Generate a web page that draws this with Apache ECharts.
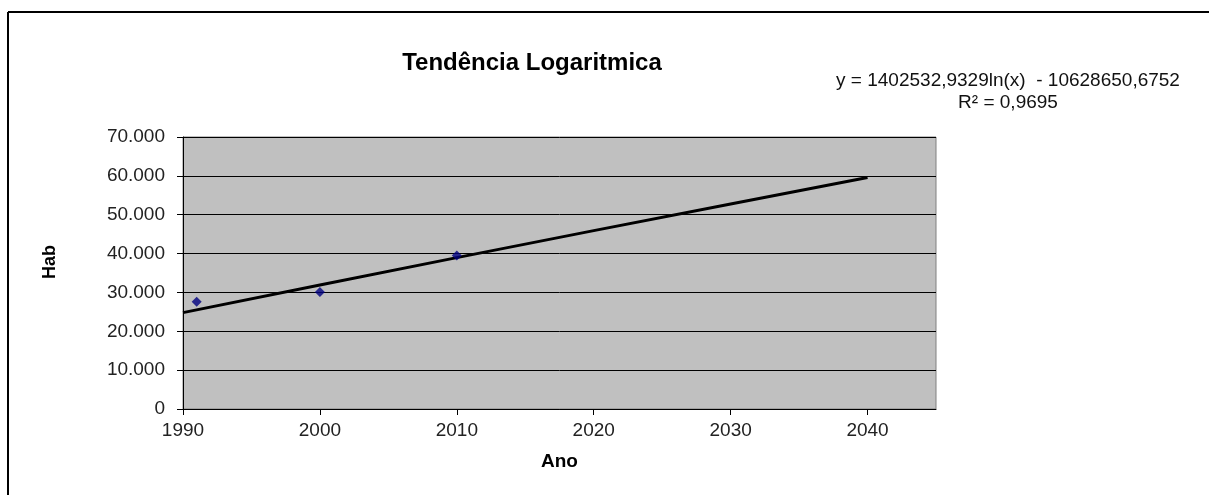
<!DOCTYPE html>
<html>
<head>
<meta charset="utf-8">
<style>
  html, body { margin: 0; padding: 0; background: #fff; }
  #chart { width: 1209px; height: 495px; }
</style>
<script src="https://cdn.jsdelivr.net/npm/echarts@6/dist/echarts.min.js"></script>
</head>
<body>
<div id="chart"></div>
<script>
// observed population
const years = [1991, 2000, 2010]
const habitantes = [27600, 30100, 39500]

// logarithmic trend line
const trendYears = [1990, 2000, 2010, 2020, 2030, 2040]
const trendValues = [24800, 31900, 38950, 45900, 52780, 59600]

const equationText = 'y = 1402532,9329ln(x)  - 10628650,6752'
const r2Text = 'R² = 0,9695'

const font = 'Arial, "Liberation Sans", sans-serif'

const chart = echarts.init(document.getElementById('chart'))

// 70000 -> 70.000
const fmt = (v) => String(v).replace(/\B(?=(\d{3})+(?!\d))/g, '.')

const option = {
  animation: false,
  backgroundColor: '#fff',
  title: {
    text: 'Tendência Logaritmica',
    left: 527,
    top: 46,
    textAlign: 'center',
    textStyle: { fontFamily: font, fontSize: 24, fontWeight: 'bold', color: '#000' }
  },
  grid: { left: 183, top: 137, right: 273, bottom: 86, show: true, backgroundColor: '#c0c0c0', borderColor: '#808080', borderWidth: 1 },
  graphic: [
    { type: 'line', shape: { x1: 8, y1: 12, x2: 1209, y2: 12 }, style: { stroke: '#000', lineWidth: 2 } },
    { type: 'line', shape: { x1: 8, y1: 12, x2: 8, y2: 495 }, style: { stroke: '#000', lineWidth: 2 } },
    {
      type: 'text', x: 1008, y: 71,
      style: { text: equationText, font: '19px ' + font, fill: '#111', textAlign: 'center' }
    },
    {
      type: 'text', x: 1008, y: 93,
      style: { text: r2Text, font: '19px ' + font, fill: '#111', textAlign: 'center' }
    },
    // y axis title
    {
      type: 'text', x: 50, y: 262, rotation: Math.PI / 2,
      style: { text: 'Hab', font: 'bold 18px ' + font, fill: '#000', textAlign: 'center', textVerticalAlign: 'middle' }
    }
  ],
  xAxis: {
    type: 'value',
    min: 1990,
    max: 2045,
    interval: 10,
    name: 'Ano',
    nameLocation: 'middle',
    nameGap: 43,
    nameTextStyle: { fontFamily: font, fontSize: 19, fontWeight: 'bold', color: '#000' },
    axisLine: { show: true, lineStyle: { color: '#000', width: 1 } },
    axisTick: { show: true, length: 6, lineStyle: { color: '#000' } },
    axisLabel: { fontFamily: font, fontSize: 19, color: '#222', margin: 12, showMaxLabel: false, formatter: (v) => String(v) },
    splitLine: { show: false }
  },
  yAxis: {
    type: 'value',
    min: 0,
    max: 70000,
    interval: 10000,
    axisLine: { show: true, lineStyle: { color: '#000', width: 1 } },
    axisTick: { show: true, length: 6, lineStyle: { color: '#000' } },
    axisLabel: { fontFamily: font, fontSize: 19, color: '#222', margin: 18, formatter: fmt },
    splitLine: { show: true, lineStyle: { color: '#000', width: 1 } }
  },
  series: [
    {
      name: 'Tendência',
      type: 'line',
      data: trendYears.map((y, i) => [y, trendValues[i]]),
      showSymbol: false,
      lineStyle: { color: '#000', width: 3 },
      z: 2
    },
    {
      name: 'Hab',
      type: 'scatter',
      data: years.map((y, i) => [y, habitantes[i]]),
      symbol: 'diamond',
      symbolSize: 10,
      itemStyle: { color: '#000080' },
      z: 3
    }
  ]
}

chart.setOption(option)
</script>
</body>
</html>
